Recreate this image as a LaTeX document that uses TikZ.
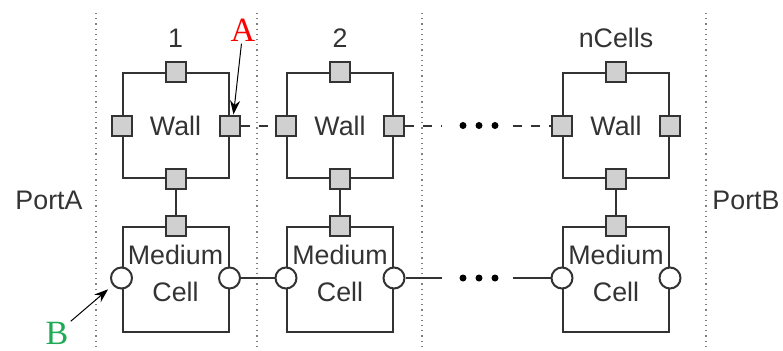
\documentclass[tikz,border=0pt]{standalone}
\usepackage{fontspec}
\setmainfont{Liberation Sans}
\newfontfamily\letterfont{Liberation Serif}
\usepackage{xcolor}
\usepackage{tikz}
\usetikzlibrary{positioning, arrows.meta, calc}

\definecolor{lineclr}{HTML}{333333}
\definecolor{portfill}{HTML}{D0D0D0}
\definecolor{markA}{HTML}{FF0000}
\definecolor{markB}{HTML}{1FAA55}

\begin{document}
\begin{tikzpicture}[
    x=0.5pt, y=-0.5pt,
    every node/.style={font=\fontsize{13.4}{18.5}\selectfont, text=lineclr},
    unit/.style={rectangle, draw=lineclr, line width=1pt, minimum width=53pt, minimum height=52.5pt, inner sep=0pt},
    sqport/.style={rectangle, draw=lineclr, fill=portfill, line width=1pt, minimum size=10pt, inner sep=0pt},
    ciport/.style={circle, draw=lineclr, fill=white, line width=1pt, minimum size=10.5pt, inner sep=0pt},
    celltext/.style={align=center, inner sep=0pt},
    dotmark/.style={circle, fill=black, inner sep=0pt, minimum size=3.5pt},
    link/.style={draw=lineclr, line width=1pt},
    dashlink/.style={draw=lineclr, line width=1pt, dash pattern=on 4.5pt off 4.5pt},
    sepline/.style={draw=gray, line width=0.6pt, dotted},
    pointer/.style={-{Stealth[length=7pt, width=5pt]}, draw=black, line width=0.5pt},
    letter/.style={font=\letterfont\fontsize{17}{17}\selectfont, inner sep=1pt}
]
\useasboundingbox (0,0) rectangle (783,350);

% separators between the cells
\foreach \xs in {96, 257, 422, 706}
  \draw[sepline] (\xs,13) -- (\xs,350);

% one column per cell
\foreach \i/\xc/\lab in {1/175.5/1, 2/340/2, 3/616/nCells}{
  \node[anchor=base] (num\i) at (\xc,47.5) {\lab};
  \node[unit] (wall\i) at (\xc,125.5) {Wall};
  \node[sqport] (wallN\i) at (wall\i.north) {};
  \node[sqport] (wallS\i) at (wall\i.south) {};
  \node[sqport] (wallW\i) at (wall\i.west) {};
  \node[sqport] (wallE\i) at (wall\i.east) {};
  \node[unit] (med\i) at (\xc,279.5) {};
  \node[celltext] (mtxt\i) at (\xc,273.5) {Medium\\Cell};
  \node[sqport] (medN\i) at (med\i.north) {};
  \node[ciport] (medW\i) at ($(med\i.west)+(0,-1.5)$) {};
  \node[ciport] (medE\i) at ($(med\i.east)+(0,-1.5)$) {};
  \draw[link] (wallS\i) -- (medN\i);
}

\node (portA) at (49,200) {PortA};
\node (portB) at (746,200) {PortB};

% gap between cell 2 and cell nCells
\foreach \d [count=\k] in {463, 479, 495}{
  \node[dotmark] (wdot\k) at (\d,125.5) {};
  \node[dotmark] (mdot\k) at (\d,278) {};
}
\coordinate (wgapL) at (442,125.5);
\coordinate (wgapR) at (513,125.5);
\coordinate (mgapL) at (442,278);
\coordinate (mgapR) at (513,278);

\draw[dashlink] (wallE1) -- (wallW2);
\draw[dashlink] (wallE2) -- (wgapL);
\draw[dashlink] (wgapR) -- (wallW3);
\draw[link] (medE1) -- (medW2);
\draw[link] (medE2) -- (mgapL);
\draw[link] (mgapR) -- (medW3);

% markers
\node[letter, text=markA] (A) at (243,30) {A};
\node[letter, text=markB] (B) at (57,333) {B};
\draw[pointer] (A) -- (wallE1.70);
\draw[pointer, shorten >=3pt] (B) -- (medW1.220);
\end{tikzpicture}
\end{document}
